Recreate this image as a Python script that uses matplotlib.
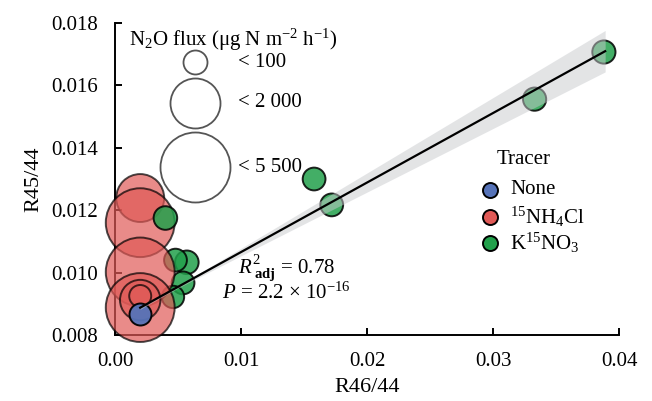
import numpy as np
import matplotlib
matplotlib.use("Agg")
import matplotlib.pyplot as plt

plt.rcParams["font.family"] = ["Liberation Serif", "DejaVu Serif"]
plt.rcParams["mathtext.fontset"] = "custom"
plt.rcParams["mathtext.rm"] = "Liberation Serif"
plt.rcParams["mathtext.it"] = "Liberation Serif:italic"
plt.rcParams["mathtext.bf"] = "Liberation Serif:bold"

# --- datos ---
none_x = [0.0020]
none_y = [0.00867]
none_flux = [50]

nh4_x = [0.0020, 0.0020, 0.0020, 0.0020, 0.0020, 0.0020]
nh4_y = [0.01239, 0.01160, 0.01002, 0.00888, 0.00912, 0.00925]
nh4_flux = [1850, 5300, 5300, 5300, 1300, 50]

no3_x = [0.0388, 0.0333, 0.0158, 0.0172, 0.0040, 0.0057, 0.0048, 0.0054, 0.0046]
no3_y = [0.01707, 0.01556, 0.01300, 0.01217, 0.01175, 0.01033, 0.01040, 0.00967, 0.00922]
no3_flux = [80, 80, 70, 70, 90, 90, 70, 70, 60]

# ajuste lineal
slope = 0.2228
intercept = 0.00843
fit_x = [0.0020, 0.0389]
band_xm = 0.004
band_h0 = 0.00004
band_b = 0.0190

size_breaks = [100, 2000, 5500]
size_labels = ["< 100", "< 2 000", "< 5 500"]

COLORS = {"None": "#5673B8", "NH4": "#E05A57", "NO3": "#22A04B"}


def msize(flux):
    # diametro en px -> area en pt^2 (dpi 100)
    d = np.interp(flux, [0, 100, 2000, 5500], [20, 24, 50, 70]) * 0.72
    return d ** 2


fig = plt.figure(figsize=(6.52, 4.01), dpi=100)
ax = fig.add_axes([0.1764, 0.1646, 0.7730, 0.7780])
FS = 15

kw = dict(edgecolors="black", linewidths=1.4, clip_on=False)
# orden de dibujo aproximado al original
ax.scatter(no3_x[5:], no3_y[5:], s=msize(np.array(no3_flux[5:])), c=COLORS["NO3"], alpha=0.85, zorder=2, **kw)
ax.scatter(nh4_x, nh4_y, s=msize(np.array(nh4_flux)), c=COLORS["NH4"], alpha=0.7, zorder=3, **kw)
ax.scatter(no3_x[:5], no3_y[:5], s=msize(np.array(no3_flux[:5])), c=COLORS["NO3"], alpha=0.85, zorder=4, **kw)
ax.scatter(none_x, none_y, s=msize(np.array(none_flux)), c=COLORS["None"], alpha=0.95, zorder=5, **kw)

# banda de confianza + recta
xx = np.linspace(fit_x[0], fit_x[1], 100)
yy = intercept + slope * xx
hw = np.sqrt(band_h0 ** 2 + (band_b * (xx - band_xm)) ** 2)
ax.fill_between(xx, yy - hw, yy + hw, color="#C8CACD", alpha=0.5, lw=0, zorder=6)
ax.plot(xx, yy, color="black", lw=1.6, zorder=7)

ax.set_xlim(0, 0.04)
ax.set_ylim(0.008, 0.018)
ax.set_xticks([0, 0.01, 0.02, 0.03, 0.04])
ax.set_xticklabels(["0.00", "0.01", "0.02", "0.03", "0.04"])
ax.set_yticks([0.008, 0.010, 0.012, 0.014, 0.016, 0.018])
ax.set_yticklabels(["0.008", "0.010", "0.012", "0.014", "0.016", "0.018"])
for s in ["top", "right"]:
    ax.spines[s].set_visible(False)
for s in ["left", "bottom"]:
    ax.spines[s].set_linewidth(1.4)
ax.tick_params(direction="in", length=5, width=1.4, labelsize=FS, pad=12)
ax.set_xlabel("R46/44", fontsize=FS + 1, labelpad=5)
ax.set_ylabel("R45/44", fontsize=FS + 1, labelpad=6)

# estadisticos
ax.text(0.34, 0.215, r"$R^{2}_{\ \mathbf{adj}}$ = 0.78", transform=ax.transAxes,
        fontsize=FS, ha="center", va="center", zorder=8)
ax.text(0.34, 0.135, r"$P$ = 2.2 × 10$^{-16}$", transform=ax.transAxes,
        fontsize=FS, ha="center", va="center", zorder=8)

# leyenda de tamano
ax.text(0.234, 0.946, r"N$_2$O flux (μg N m$^{-2}$ h$^{-1}$)", transform=ax.transAxes,
        fontsize=FS, ha="center", va="center")
for yb, br, lab in zip([0.875, 0.744, 0.538], size_breaks, size_labels):
    ax.scatter([0.159], [yb], s=msize(br), transform=ax.transAxes, facecolors="white",
               edgecolors="#555555", linewidths=1.3, clip_on=False, zorder=1)
    ax.text(0.244, yb, lab, transform=ax.transAxes, fontsize=FS, ha="left", va="center")

# leyenda de trazador
ax.text(0.758, 0.561, "Tracer", transform=ax.transAxes, fontsize=FS, ha="left", va="center")
tr_labels = ["None", r"$^{15}$NH$_4$Cl", r"K$^{15}$NO$_3$"]
for yb, key, lab in zip([0.465, 0.378, 0.295], ["None", "NH4", "NO3"], tr_labels):
    ax.scatter([0.744], [yb], s=(15 * 0.72) ** 2, transform=ax.transAxes, c=COLORS[key],
               edgecolors="black", linewidths=1.4, clip_on=False, zorder=9)
    ax.text(0.784, yb, lab, transform=ax.transAxes, fontsize=FS, ha="left", va="center")

fig.savefig("out.png", dpi=100)
